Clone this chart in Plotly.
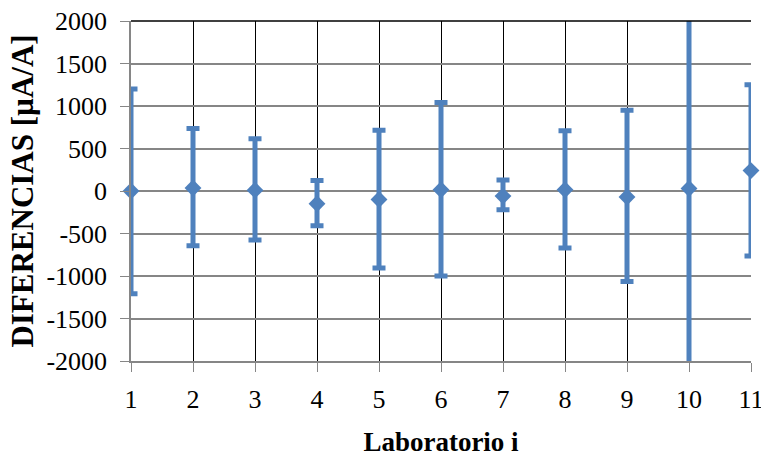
import plotly.graph_objects as go

labs = [1, 2, 3, 4, 5, 6, 7, 8, 9, 10, 11]
diff = [0, 35, 10, -150, -100, 15, -60, 15, -70, 30, 240]
upper = [1200, 735, 615, 125, 715, 1040, 130, 710, 950, 2600, 1250]
lower = [-1210, -645, -575, -410, -905, -1000, -220, -670, -1065, -2600, -765]

xticks = list(range(1, 12))
yticks = list(range(-2000, 2001, 500))

blue = "#4F81BD"
grid_gray = "#868686"
font = "Liberation Serif"

err_plus = [u - d for u, d in zip(upper, diff)]
err_minus = [d - l for d, l in zip(diff, lower)]

fig = go.Figure()
fig.add_trace(go.Scatter(
    x=labs, y=diff, mode="markers",
    marker=dict(size=1, color=blue, opacity=0),
    error_y=dict(type="data", symmetric=False, array=err_plus, arrayminus=err_minus,
                 color=blue, thickness=5, width=6.5),
    cliponaxis=True, showlegend=False, hoverinfo="skip",
))
fig.add_trace(go.Scatter(
    x=labs, y=diff, mode="markers",
    marker=dict(symbol="diamond", size=13, color=blue),
    cliponaxis=False, showlegend=False,
))

fig.update_layout(
    width=761, height=462,
    margin=dict(l=131, r=10, t=21, b=101),
    paper_bgcolor="white", plot_bgcolor="white",
    font=dict(family=font, color="black"),
    shapes=[dict(type="line", xref="paper", yref="paper", x0=0, x1=1, y0=1, y1=1,
                 line=dict(color="black", width=1.5), layer="above")],
)
fig.update_xaxes(
    range=[1, 11], tickvals=xticks, ticktext=[str(v) for v in xticks],
    showgrid=True, gridcolor="black", gridwidth=1,
    showline=True, linecolor=grid_gray, linewidth=1.5,
    ticks="outside", ticklen=9, tickcolor=grid_gray, tickwidth=1,
    tickfont=dict(size=26, family=font, color="black"),
    ticklabelstandoff=5, ticklabeloverflow="allow",
    zeroline=False, automargin=False,
    title=dict(text="<b>Laboratorio i</b>", font=dict(size=27, family=font), standoff=19),
)
fig.update_yaxes(
    range=[-2000, 2000], tickvals=yticks, ticktext=[str(v) for v in yticks],
    showgrid=True, gridcolor=grid_gray, gridwidth=1.5,
    showline=True, linecolor=grid_gray, linewidth=1.5,
    ticks="outside", ticklen=9, tickcolor=grid_gray, tickwidth=1,
    tickfont=dict(size=26, family=font, color="black"),
    ticklabelstandoff=8, ticklabeloverflow="allow",
    zeroline=False, automargin=False,
    title=dict(text="<b>DIFERENCIAS [µA/A]</b>", font=dict(size=31, family=font), standoff=4),
)

fig.write_html(
    "out.html",
    config={"displayModeBar": False},
    post_script="document.body.style.margin='0';document.body.style.padding='0';document.body.style.overflow='hidden';",
)
